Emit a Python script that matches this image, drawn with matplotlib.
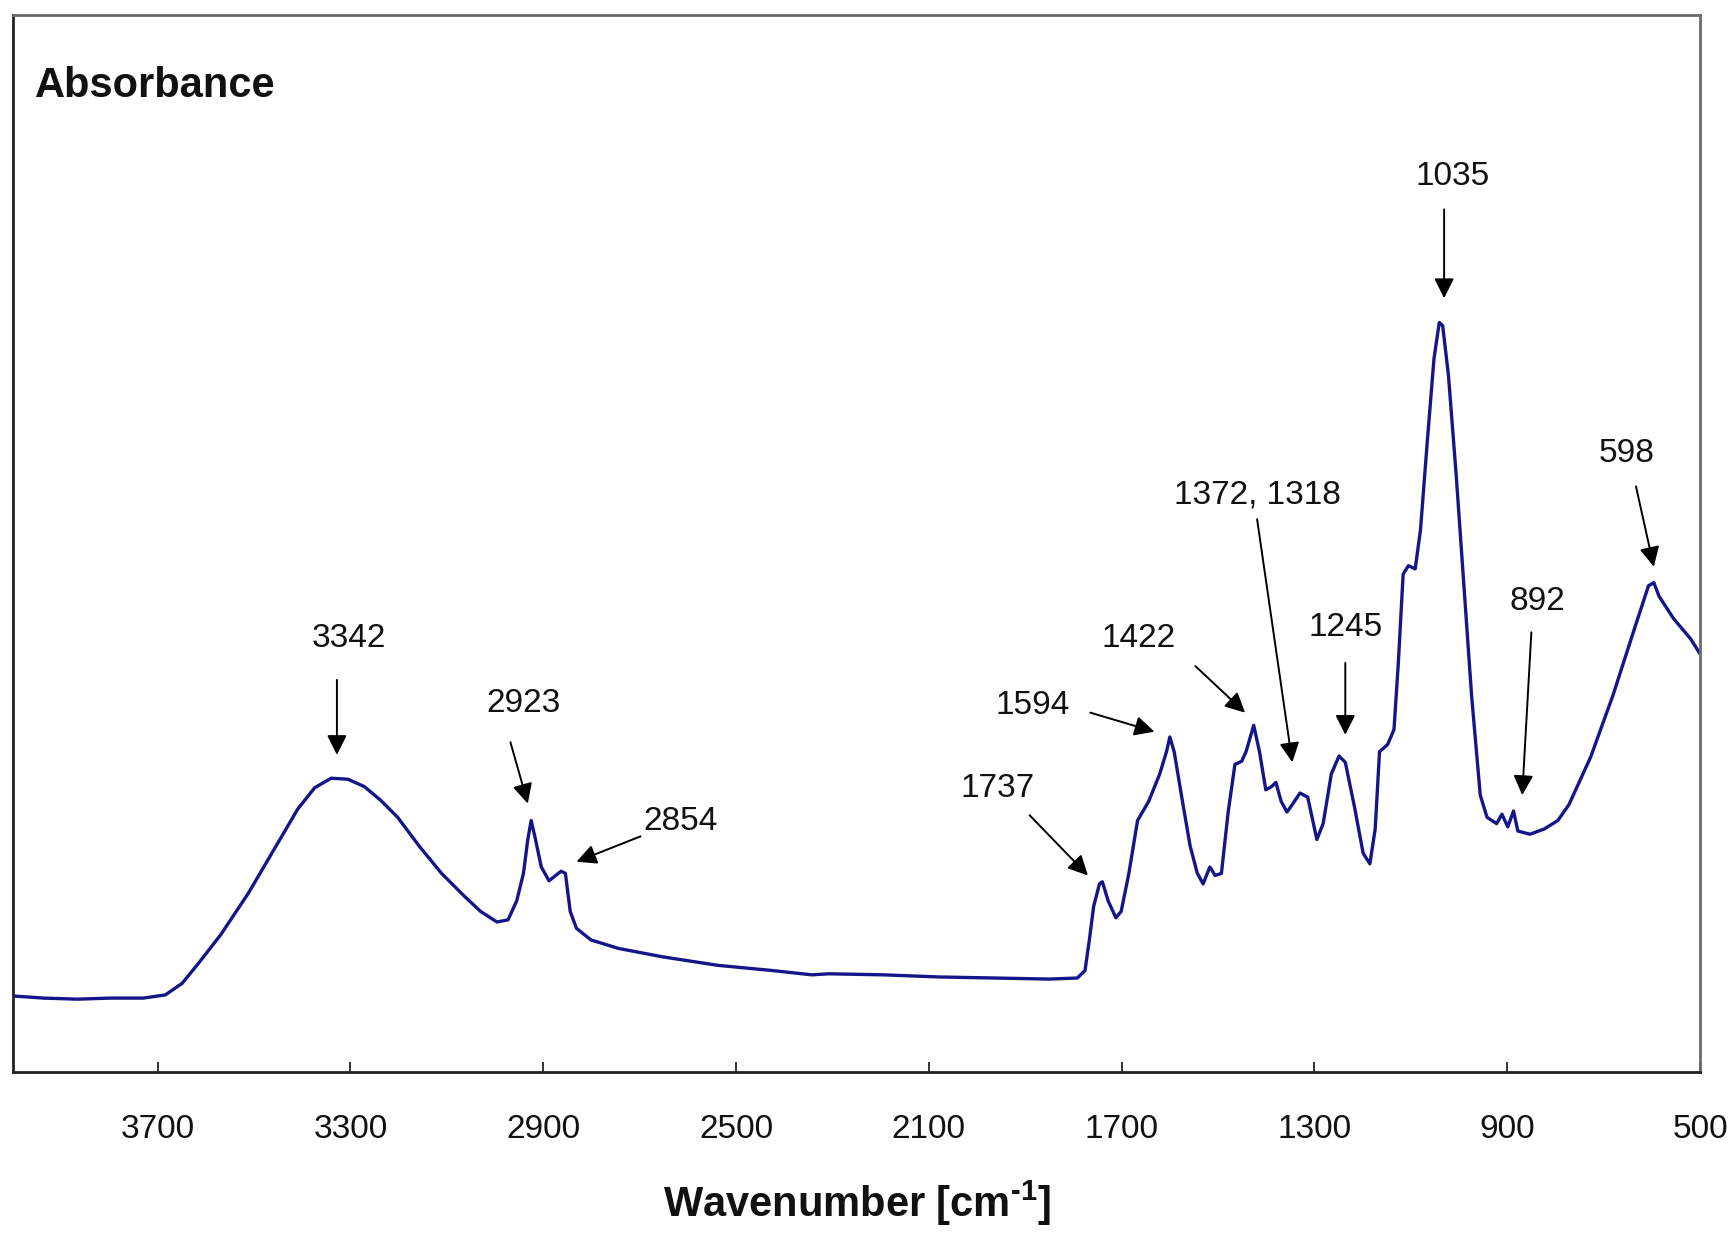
#!/usr/bin/env python3
"""FTIR absorbance spectrum with annotated peaks."""

import matplotlib

matplotlib.use("Agg")
import matplotlib.pyplot as plt

plt.rcParams["font.family"] = ["Liberation Sans", "DejaVu Sans"]
plt.rcParams["mathtext.fontset"] = "custom"
plt.rcParams["mathtext.rm"] = "Liberation Sans"
plt.rcParams["mathtext.bf"] = "Liberation Sans:bold"

# spectrum (wavenumber in cm-1, absorbance in arbitrary units)
wavenumber = [
    4000, 3936, 3867, 3798, 3730, 3684, 3649, 3615, 3569, 3512, 3454, 3409, 3374, 3340,
    3305, 3271, 3237, 3202, 3156, 3111, 3065, 3030, 2996, 2973, 2955, 2941, 2932, 2925,
    2916, 2904, 2888, 2877, 2863, 2854, 2844, 2831, 2801, 2744, 2652, 2538, 2423, 2343,
    2308, 2194, 2079, 1965, 1850, 1792, 1776, 1767, 1758, 1746, 1740, 1728, 1712, 1701,
    1685, 1667, 1644, 1621, 1607, 1600, 1591, 1576, 1558, 1543, 1531, 1517, 1506, 1493,
    1479, 1465, 1451, 1442, 1426, 1414, 1401, 1389, 1380, 1369, 1357, 1346, 1330, 1314,
    1295, 1282, 1265, 1249, 1236, 1217, 1199, 1185, 1174, 1165, 1148, 1135, 1126, 1116,
    1105, 1091, 1080, 1066, 1052, 1041, 1034, 1022, 1006, 990, 974, 956, 942, 922, 911,
    899, 887, 878, 853, 823, 795, 772, 727, 681, 635, 607, 596, 585, 555, 520, 502,
]
absorbance = [
    0.072, 0.070, 0.069, 0.070, 0.070, 0.073, 0.084, 0.103, 0.130, 0.169, 0.214, 0.249, 0.269, 0.278,
    0.277, 0.270, 0.257, 0.241, 0.213, 0.188, 0.167, 0.152, 0.142, 0.144, 0.162, 0.188, 0.220, 0.238,
    0.220, 0.194, 0.181, 0.185, 0.190, 0.188, 0.152, 0.136, 0.125, 0.117, 0.109, 0.101, 0.096, 0.092,
    0.093, 0.092, 0.090, 0.089, 0.088, 0.089, 0.096, 0.125, 0.157, 0.178, 0.180, 0.162, 0.146, 0.152,
    0.188, 0.238, 0.256, 0.282, 0.303, 0.317, 0.303, 0.262, 0.214, 0.188, 0.178, 0.194, 0.186, 0.188,
    0.246, 0.291, 0.294, 0.303, 0.328, 0.303, 0.267, 0.270, 0.274, 0.256, 0.246, 0.253, 0.264, 0.260,
    0.220, 0.235, 0.282, 0.299, 0.293, 0.251, 0.207, 0.197, 0.230, 0.303, 0.310, 0.324, 0.387, 0.471,
    0.479, 0.476, 0.513, 0.596, 0.675, 0.709, 0.706, 0.659, 0.565, 0.460, 0.356, 0.262, 0.241, 0.235, 0.244,
    0.232, 0.247, 0.228, 0.225, 0.230, 0.238, 0.253, 0.298, 0.356, 0.421, 0.460, 0.463, 0.450, 0.429, 0.410, 0.397,
]

xticks = [3700, 3300, 2900, 2500, 2100, 1700, 1300, 900, 500]

# peak labels: text position, arrow tail and arrow tip (data coordinates)
peak_labels = ["3342", "2923", "2854", "1737", "1594", "1422", "1372, 1318", "1245", "1035", "892", "598"]
label_pos = [
    (3303, 0.410), (2941, 0.349), (2615, 0.237), (1958, 0.268), (1884, 0.347), (1664, 0.410),
    (1419, 0.546), (1236, 0.421), (1013, 0.847), (837, 0.445), (653, 0.585),
]
arrow_tail = [
    (3328, 0.371), (2968, 0.312), (2698, 0.223), (1891, 0.243), (1765, 0.340), (1547, 0.384),
    (1419, 0.523), (1236, 0.387), (1031, 0.816), (850, 0.416), (633, 0.554),
]
arrow_tip = [
    (3328, 0.300), (2932, 0.254), (2831, 0.199), (1770, 0.186), (1632, 0.322), (1444, 0.340),
    (1346, 0.293), (1236, 0.319), (1031, 0.732), (869, 0.262), (596, 0.478),
]

fig = plt.figure(figsize=(17.33, 12.38), dpi=100)
ax = fig.add_axes([0.0075, 0.134, 0.9735, 0.854])

ax.plot(wavenumber, absorbance, color="#15158a", linewidth=2.4, solid_joinstyle="round")

for label, pos, tail, tip in zip(peak_labels, label_pos, arrow_tail, arrow_tip):
    ax.annotate(
        "",
        xy=tip,
        xytext=tail,
        arrowprops=dict(arrowstyle="-|>", color="black", lw=1.4, mutation_scale=30, shrinkA=0, shrinkB=0),
    )
    ax.text(pos[0], pos[1], label, fontsize=24, ha="center", va="center", color="#111111")

ax.text(0.013, 0.933, "Absorbance", transform=ax.transAxes, fontsize=30, fontweight="bold",
        ha="left", va="center", color="#111111")

ax.set_xlim(4000, 500)
ax.set_ylim(0, 1)
ax.set_xticks(xticks)
ax.set_xticklabels([str(t) for t in xticks])
ax.set_yticks([])
ax.tick_params(axis="x", direction="in", length=7, width=1.2, pad=30, labelsize=24, colors="#111111")
ax.set_xlabel("Wavenumber [cm$^{\\mathbf{\u2010}\\mathbf{1}}$]", fontsize=30, fontweight="bold",
              labelpad=24, color="#111111")

for side in ["top", "right"]:
    ax.spines[side].set_color("#6a6a6a")
    ax.spines[side].set_linewidth(2.0)
for side in ["bottom", "left"]:
    ax.spines[side].set_color("#222222")
    ax.spines[side].set_linewidth(2.0)

fig.savefig("out.png", dpi=100, facecolor="white")
